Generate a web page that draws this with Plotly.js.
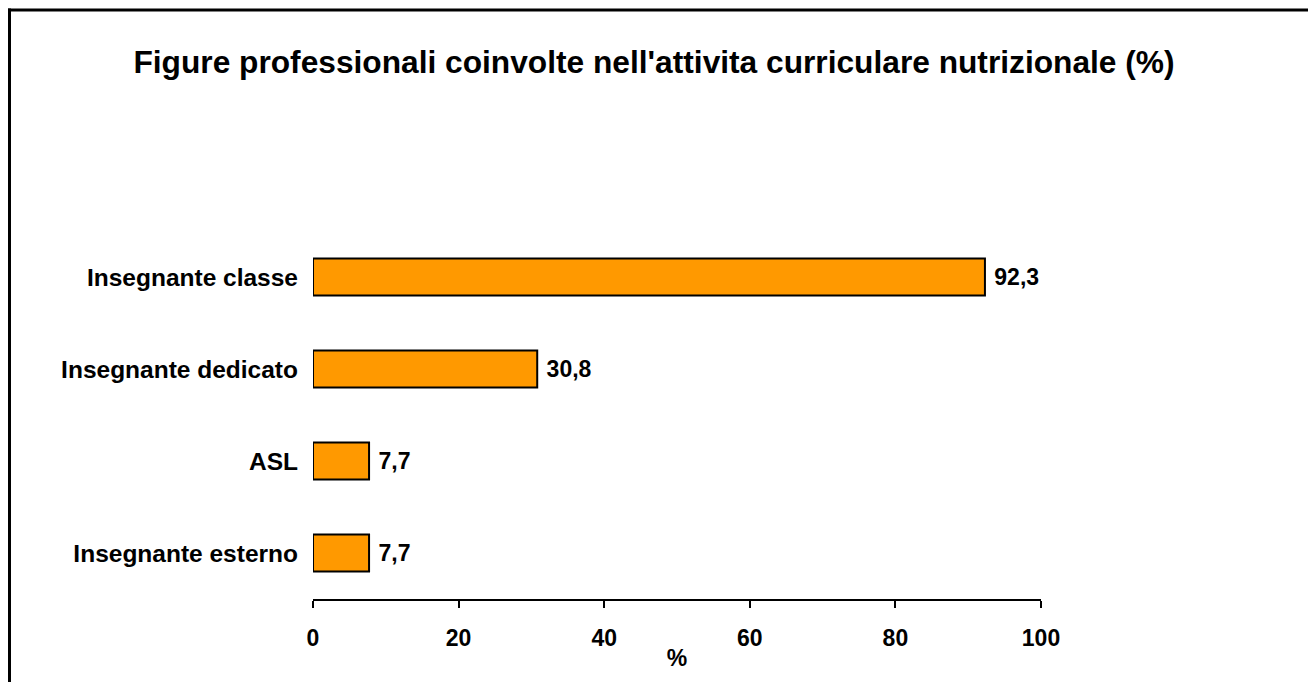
<!DOCTYPE html>
<html>
<head>
<meta charset="utf-8">
<script src="https://cdn.plot.ly/plotly-3.0.1.min.js"></script>
<style>
html,body{margin:0;padding:0;background:#fff;}
#chart{width:1308px;height:682px;}
</style>
</head>
<body>
<div id="chart"></div>
<script>
const categories = ["Insegnante classe", "Insegnante dedicato", "ASL", "Insegnante esterno"];
const values = [92.3, 30.8, 7.7, 7.7];
const xTicks = [0, 20, 40, 60, 80, 100];
const titleText = "Figure professionali coinvolte nell'attivita curriculare nutrizionale (%)";

const W = 1308, H = 682;
const mL = 313, mR = 267, mT = 231, mB = 83;
const pw = W - mL - mR, ph = H - mT - mB;
const px2x = p => (p - mL) / pw;
const py2y = p => (H - mB - p) / ph;

const fam = "Liberation Sans, Arial, sans-serif";
const labFont = {family: fam, color: "#000", size: 24.5, weight: "bold"};
const tickFont = {family: fam, color: "#000", size: 23, weight: "bold"};

const trace = {
  type: "bar",
  orientation: "h",
  y: categories,
  x: values,
  width: 0.4,
  marker: {color: "#FF9900", line: {color: "#000", width: 2}},
  text: values.map(v => " " + v.toFixed(1).replace(".", ",")),
  textposition: "outside",
  cliponaxis: false,
  textfont: tickFont,
  hoverinfo: "skip"
};

const layout = {
  width: W, height: H,
  margin: {l: mL, r: mR, t: mT, b: mB, pad: 0},
  paper_bgcolor: "#fff",
  plot_bgcolor: "#fff",
  showlegend: false,
  font: labFont,
  title: {
    text: titleText,
    font: {family: fam, size: 31.7, weight: "bold", color: "#000"},
    x: 0.5, xref: "container", xanchor: "center",
    y: 1 - 62 / H, yref: "container", yanchor: "middle"
  },
  xaxis: {
    range: [0, 100],
    tickvals: xTicks,
    ticktext: xTicks.map(String),
    showgrid: false, zeroline: false,
    showline: true, linecolor: "#000", linewidth: 2,
    ticks: "outside", ticklen: 7, tickwidth: 2, tickcolor: "#000",
    ticklabelstandoff: 10,
    tickfont: tickFont,
    title: {text: "%", font: tickFont, standoff: 0},
    fixedrange: true
  },
  yaxis: {
    type: "category",
    categoryorder: "array",
    categoryarray: categories.slice().reverse(),
    range: [-0.5, 3.5],
    showgrid: false, zeroline: false, showline: false,
    ticks: "", ticklabelstandoff: 14,
    tickfont: labFont,
    fixedrange: true
  },
  shapes: [
    {type: "line", xref: "paper", yref: "paper", x0: px2x(9.5), x1: px2x(9.5), y0: py2y(8.5), y1: py2y(700), line: {color: "#000", width: 3}},
    {type: "line", xref: "paper", yref: "paper", x0: px2x(8), x1: px2x(1320), y0: py2y(10), y1: py2y(10), line: {color: "#000", width: 3}}
  ]
};

Plotly.newPlot("chart", [trace], layout, {displayModeBar: false, staticPlot: true});
</script>
</body>
</html>
